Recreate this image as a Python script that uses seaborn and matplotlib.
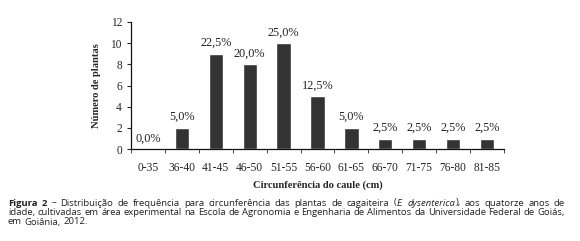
import matplotlib
matplotlib.use("Agg")
import matplotlib.pyplot as plt
import numpy as np
import pandas as pd
import seaborn as sns

# Data
classes = ["0-35", "36-40", "41-45", "46-50", "51-55", "56-60",
           "61-65", "66-70", "71-75", "76-80", "81-85"]
plantas = [0, 2, 9, 8, 10, 5, 2, 1, 1, 1, 1]
percent = ["0,0%", "5,0%", "22,5%", "20,0%", "25,0%", "12,5%",
           "5,0%", "2,5%", "2,5%", "2,5%", "2,5%"]

df = pd.DataFrame({"classe": classes, "n": plantas})

sns.set_style("ticks")
plt.rcParams['font.family'] = ['Liberation Serif', 'DejaVu Serif']

fig = plt.figure(figsize=(5.8, 2.41), dpi=100)
ax = fig.add_axes([0.2259, 0.381, 0.643, 0.528])

sns.barplot(data=df, x="classe", y="n", color="#333333", width=0.42,
            saturation=1, ax=ax)

for i, (v, p) in enumerate(zip(plantas, percent)):
    ax.text(i, v + 0.45, p, ha="center", va="bottom", fontsize=8.8, color="#222222")

ax.set_xlim(-0.5, len(classes) - 0.5)
ax.set_ylim(0, 12)
ax.set_yticks(range(0, 13, 2))
ax.set_xticks(np.arange(-0.5, len(classes), 1), minor=True)
ax.tick_params(axis="x", which="major", length=0, pad=9, labelsize=8.3)
ax.tick_params(axis="x", which="minor", length=3, direction="out")
ax.tick_params(axis="y", length=3, labelsize=8.3)
sns.despine(ax=ax)
for s in ["left", "bottom"]:
    ax.spines[s].set_linewidth(0.9)
    ax.spines[s].set_color("#111111")

ax.set_xlabel("Circunferência do caule (cm)", fontsize=7.6, fontweight="bold", labelpad=5)
ax.set_ylabel("Número de plantas", fontsize=7.6, fontweight="bold", labelpad=7)

# Caption, justified like the printed figure
cap_font = ['Open Sans', 'DejaVu Sans']
cap_size = 6.8
styles = {"": {}, "b": {"fontweight": "bold"}, "i": {"fontstyle": "italic"}}

line1 = [[("Figura", "b")], [("2", "b")], [("–", "")]] + \
    [[(w, "")] for w in "Distribuição de frequência para circunferência das plantas de cagaiteira".split()] + \
    [[("(", ""), ("E.", "i")], [("dysenterica", "i"), ("),", "")]] + \
    [[(w, "")] for w in "aos quatorze anos de".split()]
line2 = [[(w, "")] for w in "idade, cultivadas em área experimental na Escola de Agronomia e Engenharia de Alimentos da Universidade Federal de Goiás,".split()]
line3 = [[(w, "")] for w in "em Goiânia, 2012.".split()]

renderer = fig.canvas.get_renderer()
x0, x1 = 8, 565


def caption_line(tokens, ypix, justify):
    y = 1 - ypix / 241
    toks = []
    total = 0
    for tok in tokens:
        runs = []
        for txt, st in tok:
            t = fig.text(0, y, txt, fontsize=cap_size, family=cap_font,
                         color="#222222", va="center", **styles[st])
            w = t.get_window_extent(renderer).width
            runs.append((t, w))
            total += w
        toks.append(runs)
    if justify:
        gap = (x1 - x0 - total) / (len(toks) - 1)
    else:
        gap = 2.6
    x = x0
    for runs in toks:
        for t, w in runs:
            t.set_x(x / 580)
            x += w
        x += gap


caption_line(line1, 203, True)
caption_line(line2, 212.5, True)
caption_line(line3, 222, False)

fig.savefig("out.png", dpi=100)
